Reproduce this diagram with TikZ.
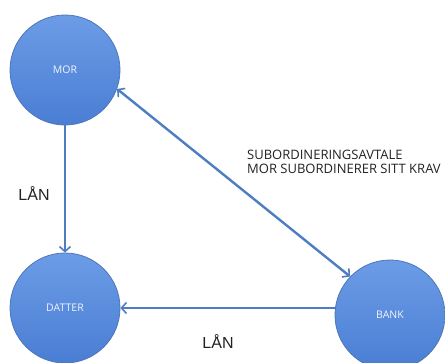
\documentclass[tikz,border=0pt]{standalone}
\usepackage{fontspec}
\setmainfont{Open Sans}
\newfontfamily\lblfont{Liberation Sans}
\usetikzlibrary{arrows.meta}
\definecolor{CTop}{HTML}{6C9CE6}
\definecolor{CBot}{HTML}{4A7ED4}
\definecolor{CEdge}{HTML}{4D76B8}
\definecolor{CLine}{HTML}{4E7EC2}
\definecolor{CInk}{HTML}{222222}

\begin{document}
\begin{tikzpicture}[x=1pt,y=-1pt,
  party/.style={circle,minimum size=110pt,inner sep=0pt,draw=CEdge,line width=0.8pt,
    top color=CTop,bottom color=CBot,text=white!90!CTop,font=\fontsize{10.5}{13}\selectfont},
  flow/.style={draw=CLine,line width=2.4pt,-{Straight Barb[length=5pt,width=11pt,line width=1.6pt]}},
  lbl/.style={text=CInk,font=\lblfont\fontsize{16}{18}\selectfont}]
  \useasboundingbox (0,0) rectangle (445,362);

  % parties
  \node[party] (mor) at (65,70) {MOR};
  \node[party] (datter) at (65,308) {DATTER};
  \node[party] (bank) at (390,315) {BANK};

  % loans and agreement
  \draw[flow] (mor) -- (datter);
  \draw[flow] (bank.west |- datter) -- (datter);
  \draw[draw=CLine,line width=2.4pt,{Straight Barb[length=5pt,width=11pt,line width=1.6pt]}-{Straight Barb[length=5pt,width=11pt,line width=1.6pt]}] (mor.-20) -- (bank.136);

  \node[lbl] (lanA) at (34,194) {LÅN};
  \node[lbl] (lanB) at (218,342) {LÅN};
  \node[anchor=west,align=left,inner sep=0pt,text=CInk,font=\fontsize{13}{14}\selectfont] (avtale) at (247,162)
    {SUBORDINERINGSAVTALE\\MOR SUBORDINERER SITT KRAV};
\end{tikzpicture}
\end{document}
